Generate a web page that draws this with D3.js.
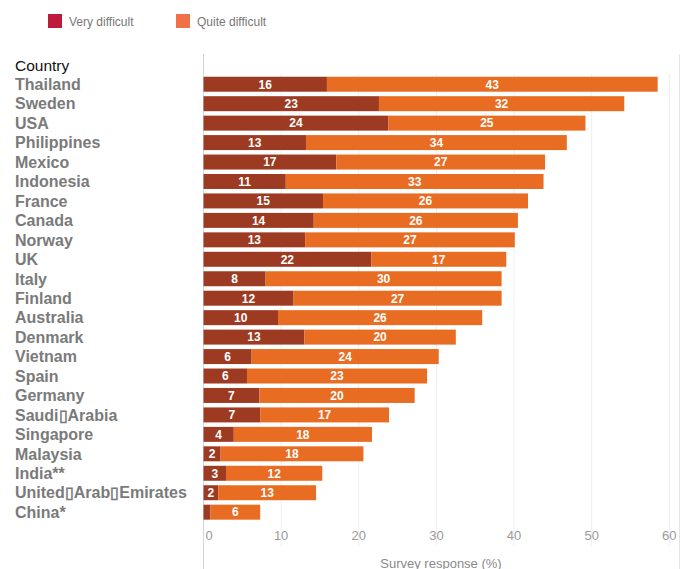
<!DOCTYPE html>
<html><head><meta charset="utf-8">
<script src="https://cdn.jsdelivr.net/npm/d3@7"></script>
<style>
body{margin:0;background:#fff;}
text{font-family:"Liberation Sans",Arial,Helvetica,sans-serif;}
</style></head>
<body><svg id="c" width="687" height="569"></svg>
<script>
const countries = ["Thailand","Sweden","USA","Philippines","Mexico","Indonesia","France","Canada","Norway","UK","Italy","Finland","Australia","Denmark","Vietnam","Spain","Germany","Saudi\u25AFArabia","Singapore","Malaysia","India**","United\u25AFArab\u25AFEmirates","China*"];
const veryDifficult = [15.9,22.6,23.8,13.2,17.1,10.6,15.4,14.2,13.1,21.6,8.0,11.6,9.6,13.0,6.2,5.6,7.2,7.3,3.9,2.2,2.9,1.9,0.9];
const quiteDifficult = [42.6,31.6,25.4,33.6,26.9,33.2,26.4,26.3,27.0,17.4,30.4,26.8,26.3,19.5,24.1,23.2,20.0,16.6,17.8,18.4,12.4,12.6,6.4];
const seriesNames = ["Very difficult","Quite difficult"];
const barColors = ["#9d3b22","#e86c22"];
const legendColors = ["#be1a3e","#f07048"];
const xTicks = [0,10,20,30,40,50,60];

const svg = d3.select("#c");
const x = d3.scaleLinear().domain([0,60]).range([203.5,669.3]);
const y = d3.scaleBand().domain(countries).range([74.5,521.9]).paddingInner(0.23).paddingOuter(0.115);

// legend
const lg = svg.append("g");
seriesNames.forEach((s,i)=>{
  const lx = [48,176][i];
  lg.append("rect").attr("x",lx).attr("y",14).attr("width",14).attr("height",14).attr("fill",legendColors[i]);
  lg.append("text").attr("x",lx+21).attr("y",25.5).attr("font-size",12).attr("fill","#777").text(s);
});

// grid
svg.append("g").selectAll("line").data(xTicks.slice(1)).join("line")
  .attr("x1",d=>x(d)).attr("x2",d=>x(d)).attr("y1",74).attr("y2",546)
  .attr("stroke","#eeeeee").attr("stroke-width",1);
svg.append("line").attr("x1",x(0)).attr("x2",x(0)).attr("y1",54).attr("y2",569).attr("stroke","#d4d4d4");
svg.append("line").attr("x1",679.5).attr("x2",679.5).attr("y1",54).attr("y2",569).attr("stroke","#e4e4e4");

// x axis labels
svg.append("g").selectAll("text").data(xTicks).join("text")
  .attr("x",d=>x(d)+(d===0?5.5:0)).attr("y",539.5).attr("text-anchor","middle")
  .attr("font-size",13).attr("fill","#9a9a9a").text(d=>d);
svg.append("text").attr("x",441).attr("y",567.5).attr("text-anchor","middle")
  .attr("font-size",13).attr("fill","#8a8a8a").text("Survey response (%)");

// country labels
svg.append("text").attr("x",15).attr("y",70.5).attr("font-size",15.5).attr("fill","#111").text("Country");
svg.append("g").selectAll("text").data(countries).join("text")
  .attr("x",15).attr("y",d=>y(d)+y.bandwidth()/2).attr("dy","0.36em")
  .attr("font-size",16).attr("font-weight","bold").attr("fill","#7a7a7a").text(d=>d);

// bars
const rows = countries.map((c,i)=>({c, v:[veryDifficult[i],quiteDifficult[i]]}));
const bars = svg.append("g");
rows.forEach(r=>{
  let acc=0;
  r.v.forEach((v,j)=>{
    const x0=x(acc), x1=x(acc+v);
    bars.append("rect").attr("x",x0).attr("y",y(r.c)).attr("width",x1-x0).attr("height",y.bandwidth()).attr("fill",barColors[j]);
    if (x1-x0>10) {
      bars.append("text").attr("x",(x0+x1)/2).attr("y",y(r.c)+y.bandwidth()/2).attr("dy","0.36em")
        .attr("text-anchor","middle").attr("font-size",12).attr("font-weight","bold").attr("fill","#fff")
        .text(d3.format(".0f")(v));
    }
    acc+=v;
  });
});
</script></body></html>
